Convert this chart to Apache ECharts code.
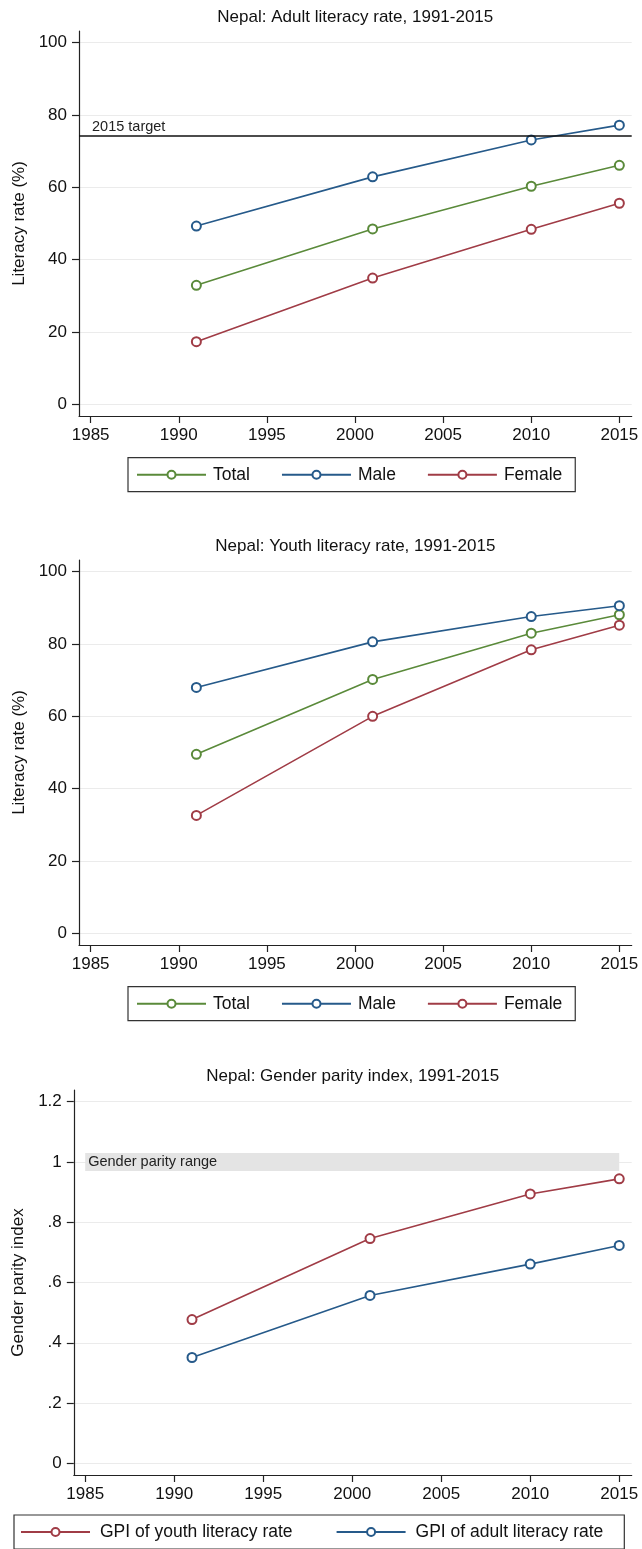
<!DOCTYPE html>
<html><head><meta charset="utf-8">
<script src="https://cdn.jsdelivr.net/npm/echarts@6/dist/echarts.min.js"></script>
<style>html,body{margin:0;padding:0;background:#fff}#c{width:642px;height:1549px}</style>
</head><body><div id="c"></div>
<script>
// ---- data ----
const years = [1991, 2001, 2010, 2015];
const adultTotal = [32.9, 48.5, 60.3, 66.1];
const adultMale = [49.3, 62.9, 73.1, 77.2];
const adultFemale = [17.3, 34.9, 48.4, 55.6];
const adultTarget = 74.4;
const youthTotal = [49.5, 70.2, 83.0, 88.1];
const youthMale = [68.0, 80.6, 87.6, 90.6];
const youthFemale = [32.6, 60.0, 78.4, 85.2];
const gpiYouth = [0.477, 0.746, 0.894, 0.944];
const gpiAdult = [0.351, 0.557, 0.661, 0.723];
const parityRange = [0.97, 1.03];
const parityYears = [1985, 2015];
const xTicks = [1985, 1990, 1995, 2000, 2005, 2010, 2015];
const rateTicks = [0, 20, 40, 60, 80, 100];
const gpiTicks = [0, 0.2, 0.4, 0.6, 0.8, 1, 1.2];
const gpiTickLabels = ['0', '.2', '.4', '.6', '.8', '1', '1.2'];
const titles = ['Nepal: Adult literacy rate, 1991-2015', 'Nepal: Youth literacy rate, 1991-2015', 'Nepal: Gender parity index, 1991-2015'];

// ---- style ----
const FONT = "'Liberation Sans', Arial, sans-serif";
const GREEN = '#5a8a3a', BLUE = '#265a8a', RED = '#a03c46';
const AXIS = '#222', GRID = '#ebebeb', TEXT = '#111';
const pairs = arr => years.map((y, i) => [y, arr[i]]);

function xAx(g, min, max) {
  return { type: 'value', gridIndex: g, min, max,
    axisLine: { show: true, onZero: false, lineStyle: { color: AXIS, width: 1.2 } },
    axisTick: { show: true, customValues: xTicks, length: 7, lineStyle: { color: AXIS, width: 1.2 } },
    axisLabel: { customValues: xTicks, margin: 11, fontSize: 17, color: TEXT, fontFamily: FONT, formatter: v => String(v) },
    splitLine: { show: false } };
}
function yAx(g, min, max, ticks, name, gap, fmt) {
  return { type: 'value', gridIndex: g, min, max,
    name, nameLocation: 'middle', nameGap: gap, nameRotate: 90,
    nameTextStyle: { fontSize: 17, color: TEXT, fontFamily: FONT },
    axisLine: { show: true, onZero: false, lineStyle: { color: AXIS, width: 1.2 } },
    axisTick: { show: true, customValues: ticks, length: 7, lineStyle: { color: AXIS, width: 1.2 } },
    axisLabel: { customValues: ticks, margin: 12, fontSize: 17, color: TEXT, fontFamily: FONT, formatter: fmt || (v => String(v)) },
    splitLine: { show: true, lineStyle: { color: GRID, width: 1.2 } } };
}
function line(name, color, g, arr) {
  return { type: 'line', name, xAxisIndex: g, yAxisIndex: g, data: pairs(arr), z: 3,
    symbol: 'emptyCircle', symbolSize: 9, color,
    lineStyle: { color, width: 1.6 }, itemStyle: { color, borderColor: color, borderWidth: 1.5 },
    animation: false };
}
function legend(names, left, top, gap, padding, textPad) {
  return { data: names, left, top, orient: 'horizontal', itemWidth: 69, itemHeight: 10, itemGap: gap,
    padding, borderColor: '#333', borderWidth: 1.2, selectedMode: false,
    textStyle: { fontSize: 17.5, color: TEXT, fontFamily: FONT, padding: [0, 0, 0, textPad] } };
}
const gpiFmt = v => { const i = gpiTicks.findIndex(t => Math.abs(t - v) < 1e-9); return i >= 0 ? gpiTickLabels[i] : ''; };

const option = {
  backgroundColor: '#fff',
  animation: false,
  title: titles.map((t, i) => ({ text: t, left: i === 2 ? 352.7 : 355.3, top: [9, 538, 1068][i], textAlign: 'center', padding: 0,
    textStyle: { fontSize: 17, fontWeight: 'normal', color: TEXT, fontFamily: FONT } })),
  grid: [
    { left: 79, top: 31, width: 552.7, height: 385 },
    { left: 79, top: 560, width: 552.7, height: 385 },
    { left: 73.8, top: 1090, width: 557.9, height: 385 }
  ],
  xAxis: [xAx(0, 1984.34, 2015.7), xAx(1, 1984.34, 2015.7), xAx(2, 1984.36, 2015.7)],
  yAxis: [
    yAx(0, -3.24, 103.24, rateTicks, 'Literacy rate (%)', 51),
    yAx(1, -3.24, 103.24, rateTicks, 'Literacy rate (%)', 51),
    yAx(2, -0.039, 1.239, gpiTicks, 'Gender parity index', 46, gpiFmt)
  ],
  legend: [
    legend(['Total', 'Male', 'Female'], 128, 457.7, 31, [8, 13, 8, 8], 2),
    legend(['Total', 'Male', 'Female'], 128, 986.7, 31, [8, 13, 8, 8], 2),
    legend(['GPI of youth literacy rate', 'GPI of adult literacy rate'], 14, 1515, 43, [8, 21, 8, 6], 5)
  ],
  series: [
    { type: 'line', name: 'target', xAxisIndex: 0, yAxisIndex: 0, data: [], z: 1, silent: true,
      markLine: { symbol: ['none', 'none'], silent: true, animation: false,
        lineStyle: { color: '#111', width: 1.5, type: 'solid' },
        label: { show: true, position: 'insideStartTop', formatter: '2015 target', distance: [13, 1],
          fontSize: 14.5, color: '#222', fontFamily: FONT },
        data: [{ yAxis: adultTarget }] } },
    line('Total', GREEN, 0, adultTotal),
    line('Male', BLUE, 0, adultMale),
    line('Female', RED, 0, adultFemale),
    line('Total', GREEN, 1, youthTotal),
    line('Male', BLUE, 1, youthMale),
    line('Female', RED, 1, youthFemale),
    { type: 'line', name: 'parity', xAxisIndex: 2, yAxisIndex: 2, data: [], z: 1, silent: true,
      markArea: { silent: true, itemStyle: { color: '#e4e4e4' },
        label: { show: true, position: 'insideLeft', formatter: 'Gender parity range', distance: 3,
          fontSize: 14.5, color: '#222', fontFamily: FONT },
        data: [[{ coord: [parityYears[0], parityRange[0]] }, { coord: [parityYears[1], parityRange[1]] }]] } },
    line('GPI of youth literacy rate', RED, 2, gpiYouth),
    line('GPI of adult literacy rate', BLUE, 2, gpiAdult)
  ]
};
const chart = echarts.init(document.getElementById('c'), null, { renderer: 'canvas' });
chart.setOption(option);
</script></body></html>
